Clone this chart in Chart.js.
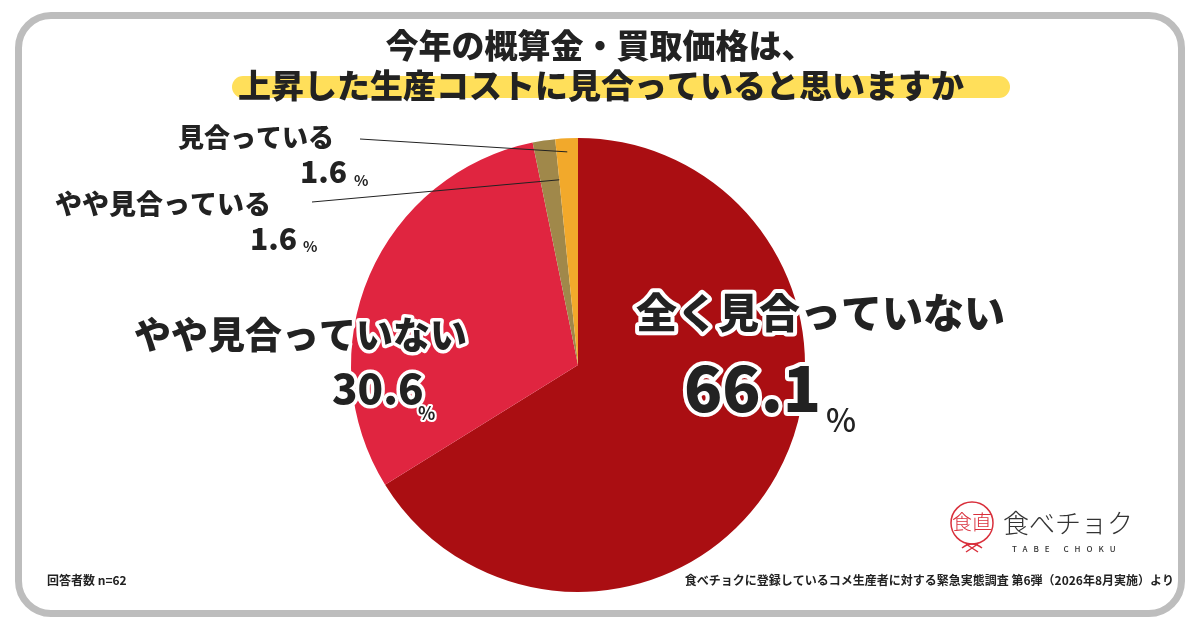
<!DOCTYPE html>
<html>
<head>
<meta charset="utf-8">
<script src="https://cdn.jsdelivr.net/npm/chart.js@4.4.1/dist/chart.umd.min.js"></script>
<style>
  html, body { margin: 0; padding: 0; background: #fff; }
  #wrap { position: relative; width: 1200px; height: 630px; overflow: hidden; }
  #frame {
    position: absolute; left: 15px; top: 12px; width: 1170px; height: 605px;
    box-sizing: border-box; border: 7px solid #bdbdbd; border-radius: 36px;
  }
  canvas { position: absolute; left: 0; top: 0; }
</style>
</head>
<body>
<div id="wrap">
  <div id="frame"></div>
  <canvas id="pie" width="1200" height="630"></canvas>
</div>
<script>
const categories = ['全く見合っていない', 'やや見合っていない', 'やや見合っている', '見合っている'];
const shares = [66.1, 30.6, 1.6, 1.6];
const shareLabels = ['66.1', '30.6', '1.6', '1.6'];
const sliceColors = ['#aa0e12', '#e02540', '#a0884a', '#f2a92b'];
const titleLines = ['今年の概算金・買取価格は、', '上昇した生産コストに見合っていると思いますか'];
const sampleNote = '回答者数 n=62';
const sourceNote = '食べチョクに登録しているコメ生産者に対する緊急実態調査 第6弾（2026年8月実施）より';

const JP = '"Noto Sans CJK JP", "Noto Sans", sans-serif';

function outlined(ctx, text, x, y, size, weight, align, stroke) {
    ctx.font = weight + ' ' + size + 'px ' + JP;
    ctx.textAlign = align;
    ctx.textBaseline = 'middle';
    if (stroke) {
        ctx.lineJoin = 'round';
        ctx.lineWidth = stroke;
        ctx.strokeStyle = '#fff';
        ctx.strokeText(text, x, y);
    }
    ctx.fillStyle = '#222';
    ctx.fillText(text, x, y);
    return ctx.measureText(text).width;
}

const decorations = {
    id: 'decorations',
    afterDraw(chart) {
        const ctx = chart.ctx;
        const arcs = chart.getDatasetMeta(0).data;
        ctx.save();

        // title with yellow marker
        ctx.fillStyle = '#ffdf5a';
        ctx.beginPath();
        ctx.roundRect(232, 76, 778, 22, 11);
        ctx.fill();
        outlined(ctx, titleLines[0], 600, 45, 33, 900, 'center', 0);
        outlined(ctx, titleLines[1], 601, 85, 33, 900, 'center', 0);

        // leader lines for the two thin slices
        const a3 = arcs[3], a2 = arcs[2];
        const m3 = (a3.startAngle + a3.endAngle) / 2;
        const r3 = a3.outerRadius * 0.94;
        const r2 = a2.outerRadius * 0.82;
        ctx.strokeStyle = '#222';
        ctx.lineWidth = 1;
        ctx.beginPath();
        ctx.moveTo(360, 139);
        ctx.lineTo(a3.x + Math.cos(m3) * r3, a3.y + Math.sin(m3) * r3);
        ctx.moveTo(312, 202);
        ctx.lineTo(a2.x + Math.cos(a2.endAngle) * r2, a2.y + Math.sin(a2.endAngle) * r2);
        ctx.stroke();

        // big labels
        outlined(ctx, categories[0], 636, 312, 41, 900, 'left', 8);
        outlined(ctx, shareLabels[0], 684, 388, 63, 900, 'left', 8);
        outlined(ctx, '%', 826, 420, 32, 500, 'left', 0);

        outlined(ctx, categories[1], 134, 335, 37, 900, 'left', 7);
        outlined(ctx, shareLabels[1], 332, 388, 42, 900, 'left', 7);
        outlined(ctx, '%', 418, 413, 18, 700, 'left', 4);

        outlined(ctx, categories[3], 178, 137, 26, 900, 'left', 0);
        outlined(ctx, shareLabels[3], 300, 172, 30, 900, 'left', 0);
        outlined(ctx, '%', 354, 180, 15, 700, 'left', 0);

        outlined(ctx, categories[2], 55, 204, 27, 900, 'left', 0);
        outlined(ctx, shareLabels[2], 250, 239, 30, 900, 'left', 0);
        outlined(ctx, '%', 303, 246, 15, 700, 'left', 0);

        // footers
        outlined(ctx, sampleNote, 47, 580, 12, 700, 'left', 0);
        outlined(ctx, sourceNote, 1174, 580, 12, 700, 'right', 0);

        // logo
        ctx.strokeStyle = '#d9303c';
        ctx.lineWidth = 1.5;
        ctx.beginPath();
        ctx.arc(972, 523, 21, 0, Math.PI * 2);
        ctx.stroke();
        ctx.fillStyle = '#d9303c';
        ctx.font = '300 20px ' + JP;
        ctx.textAlign = 'center';
        ctx.textBaseline = 'middle';
        ctx.fillText('食直', 972, 522);
        ctx.beginPath();
        ctx.moveTo(962, 548); ctx.quadraticCurveTo(972, 540, 982, 548);
        ctx.moveTo(966, 552); ctx.lineTo(978, 544);
        ctx.moveTo(966, 544); ctx.lineTo(978, 552);
        ctx.stroke();
        ctx.fillStyle = '#333';
        ctx.font = '300 26px ' + JP;
        ctx.textAlign = 'left';
        ctx.fillText('食べチョク', 1003, 523);
        ctx.font = '500 8px ' + JP;
        ctx.letterSpacing = '6px';
        ctx.fillText('TABE CHOKU', 1012, 549);
        ctx.restore();
    }
};

new Chart(document.getElementById('pie'), {
    type: 'pie',
    data: {
        labels: categories,
        datasets: [{
            data: shares,
            backgroundColor: sliceColors,
            borderWidth: 0
        }]
    },
    options: {
        responsive: false,
        animation: false,
        devicePixelRatio: 1,
        layout: { padding: { left: 351, right: 395, top: 138, bottom: 38 } },
        plugins: {
            legend: { display: false },
            tooltip: { enabled: false },
            title: { display: false }
        }
    },
    plugins: [decorations]
});
</script>
</body>
</html>
